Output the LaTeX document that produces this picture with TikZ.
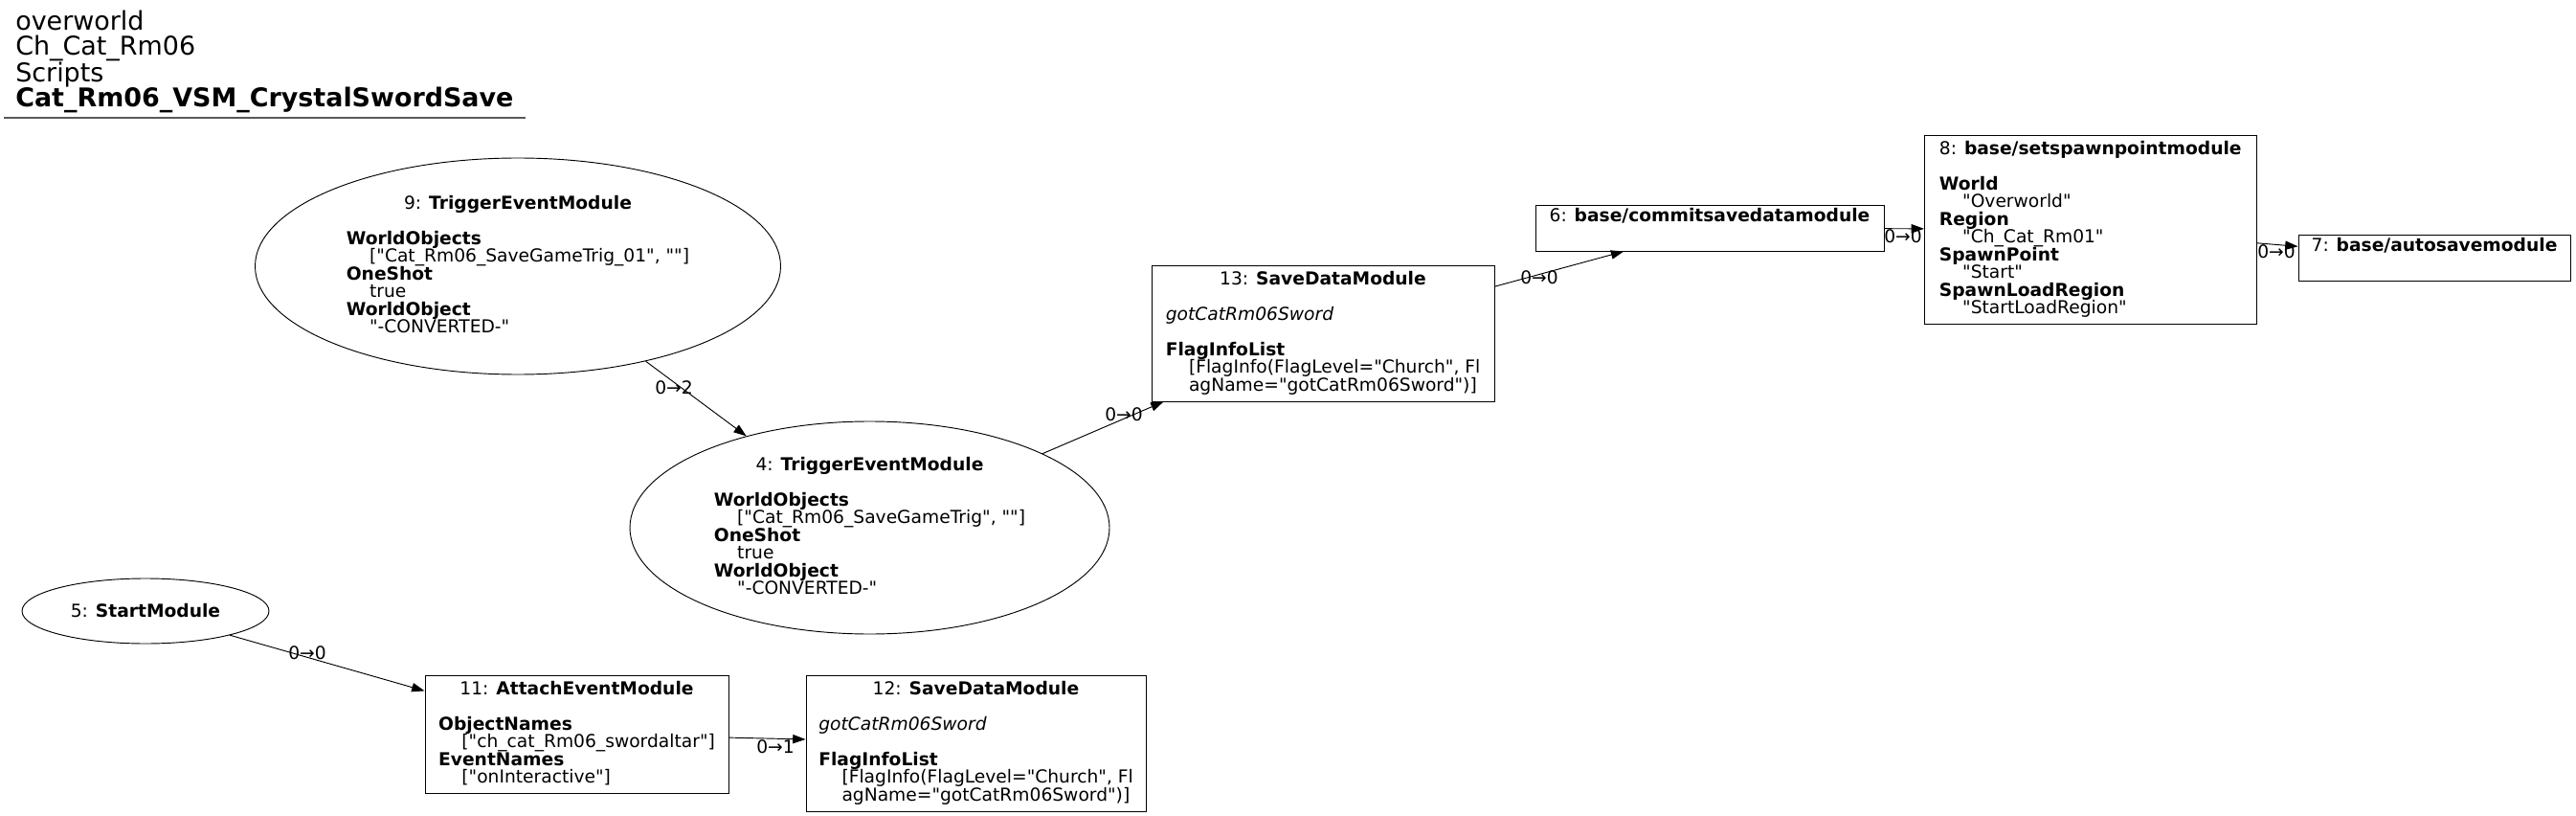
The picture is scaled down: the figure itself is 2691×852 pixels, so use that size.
\documentclass[tikz,border=0pt]{standalone}
\usepackage{fontspec}
\setmainfont{DejaVu Sans}[Ligatures=TeXOff]
\usetikzlibrary{shapes.geometric,arrows.meta}

\begin{document}
\begin{tikzpicture}[x=0.75pt,y=-0.75pt,
	font={\fontsize{14}{13.8}\selectfont\setbox\strutbox\hbox{\vrule height10.7pt depth3.1pt width0pt}},
	ellmod/.style={draw,ellipse,line width=0.7pt,inner sep=0pt},
	boxmod/.style={draw,rectangle,line width=0.7pt,inner sep=2pt},
	link/.style={-{Triangle[length=10pt,width=7pt]},line width=0.7pt},
	linklbl/.style={inner sep=0pt}]
	\useasboundingbox (0,0) rectangle (2691,852);
	\node[align=left,anchor=north west,inner sep=0pt,font=\fontsize{20.2}{19.7}\selectfont] (title) at (16,10.5) {overworld\\Ch\_Cat\_Rm06\\Scripts\\\textbf{Cat\_Rm06\_VSM\_CrystalSwordSave}};
	\draw[line width=1.2pt,black!65] (4,123) -- (549,123);
	\node[ellmod,minimum width=411.75pt,minimum height=169.5pt] (n9) at (541,278) {\begin{tabular}{@{}l@{}}\multicolumn{1}{@{}c@{}}{9: \textbf{TriggerEventModule}}\\ \\ \textbf{WorldObjects}\\ \hspace*{1.3em}{[}"Cat\_Rm06\_SaveGameTrig\_01", ""{]}\\ \textbf{OneShot}\\ \hspace*{1.3em}true\\ \textbf{WorldObject}\\ \hspace*{1.3em}"-CONVERTED-"\end{tabular}};
	\node[ellmod,minimum width=375.75pt,minimum height=166.5pt] (n4) at (908.5,551) {\begin{tabular}{@{}l@{}}\multicolumn{1}{@{}c@{}}{4: \textbf{TriggerEventModule}}\\ \\ \textbf{WorldObjects}\\ \hspace*{1.3em}{[}"Cat\_Rm06\_SaveGameTrig", ""{]}\\ \textbf{OneShot}\\ \hspace*{1.3em}true\\ \textbf{WorldObject}\\ \hspace*{1.3em}"-CONVERTED-"\end{tabular}};
	\node[ellmod,minimum width=193.5pt,minimum height=51pt] (n5) at (152,638) {5: \textbf{StartModule}};
	\node[boxmod,minimum width=237.75pt,minimum height=92.25pt] (n11) at (602.5,766.5) {\begin{tabular}{@{}l@{}}\multicolumn{1}{@{}c@{}}{11: \textbf{AttachEventModule}}\\ \\ \textbf{ObjectNames}\\ \hspace*{1.3em}{[}"ch\_cat\_Rm06\_swordaltar"{]}\\ \textbf{EventNames}\\ \hspace*{1.3em}{[}"onInteractive"{]}\end{tabular}};
	\node[boxmod,minimum width=266.25pt,minimum height=106.5pt] (n12) at (1019.5,776) {\begin{tabular}{@{}l@{}}\multicolumn{1}{@{}c@{}}{12: \textbf{SaveDataModule}}\\ \\ \textit{gotCatRm06Sword}\\ \\ \textbf{FlagInfoList}\\ \hspace*{1.3em}{[}FlagInfo(FlagLevel="Church", Fl\\ \hspace*{1.3em}agName="gotCatRm06Sword"){]}\end{tabular}};
	\node[boxmod,minimum width=268.5pt,minimum height=106.5pt] (n13) at (1382,348) {\begin{tabular}{@{}l@{}}\multicolumn{1}{@{}c@{}}{13: \textbf{SaveDataModule}}\\ \\ \textit{gotCatRm06Sword}\\ \\ \textbf{FlagInfoList}\\ \hspace*{1.3em}{[}FlagInfo(FlagLevel="Church", Fl\\ \hspace*{1.3em}agName="gotCatRm06Sword"){]}\end{tabular}};
	\node[boxmod,minimum width=273pt,minimum height=36pt] (n6) at (1786,238) {\begin{tabular}{@{}l@{}}6: \textbf{base/commitsavedatamodule}\\[4pt] \\\end{tabular}};
	\node[boxmod,minimum width=260pt,minimum height=147.75pt] (n8) at (2183.75,239.5) {\begin{tabular}{@{}l@{}}\multicolumn{1}{@{}c@{}}{8: \textbf{base/setspawnpointmodule}}\\ \\ \textbf{World}\\ \hspace*{1.3em}"Overworld"\\ \textbf{Region}\\ \hspace*{1.3em}"Ch\_Cat\_Rm01"\\ \textbf{SpawnPoint}\\ \hspace*{1.3em}"Start"\\ \textbf{SpawnLoadRegion}\\ \hspace*{1.3em}"StartLoadRegion"\end{tabular}};
	\node[boxmod,minimum width=213pt,minimum height=36pt] (n7) at (2543,269) {\begin{tabular}{@{}l@{}}7: \textbf{base/autosavemodule}\\[4pt] \\\end{tabular}};
	\draw[link] (n9) -- (n4);
	\draw[link] (n4) -- (n13);
	\draw[link] (n13) -- (n6);
	\draw[link] (n6) -- (n8);
	\draw[link] (n8) -- (n7);
	\draw[link] (n5) -- (n11);
	\draw[link] (n11) -- (n12);
	\node[linklbl] (l94) at (704,405) {0→2};
	\node[linklbl] (l413) at (1174,433) {0→0};
	\node[linklbl] (l136) at (1608,290) {0→0};
	\node[linklbl] (l68) at (1988,247) {0→0};
	\node[linklbl] (l87) at (2378,263) {0→0};
	\node[linklbl] (l511) at (321,682) {0→0};
	\node[linklbl] (l1112) at (810,780) {0→1};

\end{tikzpicture}
\end{document}
